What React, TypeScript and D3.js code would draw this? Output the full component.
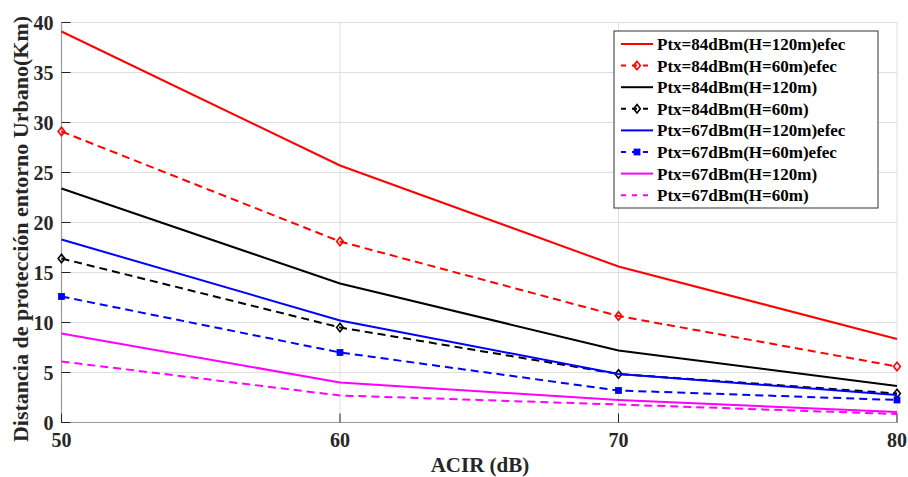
import React from "react";
import * as d3 from "d3";

const acir = [50, 60, 70, 80];
const p84h120efec = [39.1, 25.7, 15.6, 8.35];
const p84h60efec = [29.1, 18.1, 10.65, 5.6];
const p84h120 = [23.4, 13.9, 7.2, 3.65];
const p84h60 = [16.4, 9.5, 4.85, 2.9];
const p67h120efec = [18.3, 10.2, 4.85, 2.75];
const p67h60efec = [12.6, 7.0, 3.2, 2.25];
const p67h120 = [8.9, 4.0, 2.25, 1.05];
const p67h60 = [6.1, 2.7, 1.8, 0.85];
const yTicks = [0, 5, 10, 15, 20, 25, 30, 35, 40];
const xTicks = [50, 60, 70, 80];

type Series = { name: string; values: number[]; color: string; dashed: boolean; marker: "none" | "diamond" | "square" };
const series: Series[] = [
  { name: "Ptx=84dBm(H=120m)efec", values: p84h120efec, color: "#ff0000", dashed: false, marker: "none" },
  { name: "Ptx=84dBm(H=60m)efec", values: p84h60efec, color: "#ff0000", dashed: true, marker: "diamond" },
  { name: "Ptx=84dBm(H=120m)", values: p84h120, color: "#000000", dashed: false, marker: "none" },
  { name: "Ptx=84dBm(H=60m)", values: p84h60, color: "#000000", dashed: true, marker: "diamond" },
  { name: "Ptx=67dBm(H=120m)efec", values: p67h120efec, color: "#0000ff", dashed: false, marker: "none" },
  { name: "Ptx=67dBm(H=60m)efec", values: p67h60efec, color: "#0000ff", dashed: true, marker: "square" },
  { name: "Ptx=67dBm(H=120m)", values: p67h120, color: "#ff00ff", dashed: false, marker: "none" },
  { name: "Ptx=67dBm(H=60m)", values: p67h60, color: "#ff00ff", dashed: true, marker: "none" },
];

const W = 908, H = 477;
const L = 61.5, R = 897, T = 22.5, B = 422.5;
const font = "'Liberation Serif', 'Times New Roman', serif";

function Marker({ kind, x, y, color }: { kind: string; x: number; y: number; color: string }) {
  if (kind === "diamond") {
    const s = 4.2;
    return <path d={`M${x},${y - s}L${x + s * 0.8},${y}L${x},${y + s}L${x - s * 0.8},${y}Z`} fill="none" stroke={color} strokeWidth={1.6} />;
  }
  if (kind === "square") {
    return <rect x={x - 3} y={y - 3} width={6} height={6} fill={color} stroke={color} strokeWidth={0.8} />;
  }
  return null;
}

export default function App() {
  const x = d3.scaleLinear().domain([50, 80]).range([L, R]);
  const y = d3.scaleLinear().domain([0, 40]).range([B, T]);
  const line = d3.line<number>().x((_, i) => x(acir[i])).y((d) => y(d));
  const legX = 614, legY = 31, legW = 264, legH = 177;
  const rowY0 = 44, rowDy = 21.6;
  return (
    <svg width={W} height={H} style={{ position: "absolute", left: 0, top: 0, background: "#fff" }}>
      <rect width={W} height={H} fill="#fff" />
      {/* grid */}
      {yTicks.filter((t) => t > 0).map((t) => (
        <line key={"gy" + t} x1={L} x2={R} y1={y(t)} y2={y(t)} stroke="#dedede" strokeWidth={1} />
      ))}
      {xTicks.filter((t) => t > 50).map((t) => (
        <line key={"gx" + t} x1={x(t)} x2={x(t)} y1={T} y2={B} stroke="#dedede" strokeWidth={1} />
      ))}
      {/* axes */}
      <line x1={L} x2={L} y1={T} y2={B} stroke="#9a9a9a" strokeWidth={1.2} />
      <line x1={L} x2={R} y1={B} y2={B} stroke="#9a9a9a" strokeWidth={1.2} />
      {yTicks.map((t) => (
        <g key={"ty" + t}>
          <line x1={L} x2={L + 9} y1={y(t)} y2={y(t)} stroke="#222" strokeWidth={1} />
          <text x={L - 8} y={y(t)} dy="0.35em" textAnchor="end" fontFamily={font} fontWeight="bold" fontSize={20} fill="#262626">{t}</text>
        </g>
      ))}
      {xTicks.map((t) => (
        <g key={"tx" + t}>
          <line x1={x(t)} x2={x(t)} y1={B} y2={B - 9} stroke="#222" strokeWidth={1} />
          <text x={x(t)} y={447} textAnchor="middle" fontFamily={font} fontWeight="bold" fontSize={20} fill="#262626">{t}</text>
        </g>
      ))}
      <text x={480} y={472} textAnchor="middle" fontFamily={font} fontWeight="bold" fontSize={21} fill="#262626">ACIR (dB)</text>
      <text transform={`translate(28,229) rotate(-90)`} textAnchor="middle" fontFamily={font} fontWeight="bold" fontSize={22} fill="#262626">Distancia de protección entorno Urbano(Km)</text>
      {/* series */}
      {series.map((s) => (
        <g key={s.name}>
          <path d={line(s.values) || ""} fill="none" stroke={s.color} strokeWidth={2} strokeDasharray={s.dashed ? "8,5" : undefined} />
          {s.values.map((v, i) => (
            <Marker key={i} kind={s.marker} x={x(acir[i])} y={y(v)} color={s.color} />
          ))}
        </g>
      ))}
      {/* legend */}
      <rect x={legX} y={legY} width={legW} height={legH} fill="#fff" stroke="#333" strokeWidth={1} />
      {series.map((s, i) => {
        const cy = rowY0 + i * rowDy;
        return (
          <g key={"lg" + s.name}>
            <line x1={621} x2={653} y1={cy} y2={cy} stroke={s.color} strokeWidth={2} strokeDasharray={s.dashed ? "5,6" : undefined} />
            <Marker kind={s.marker} x={637} y={cy} color={s.color} />
            <text x={657} y={cy} dy="0.35em" fontFamily={font} fontWeight="bold" fontSize={17} fill="#000">{s.name}</text>
          </g>
        );
      })}
    </svg>
  );
}
